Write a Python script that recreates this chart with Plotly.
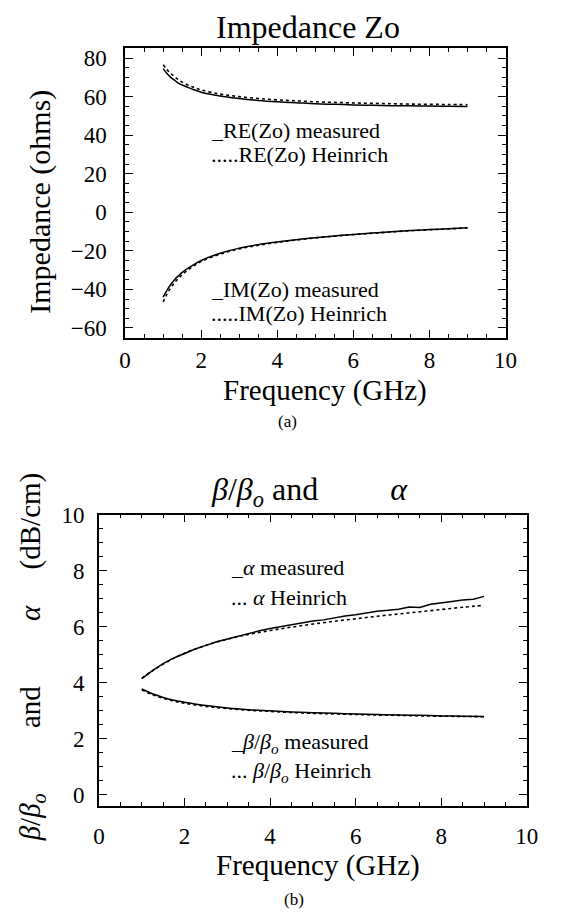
import plotly.graph_objects as go

# ---------------- data ----------------
freq_z = [1.0, 1.1, 1.2, 1.3, 1.4, 1.5, 1.75, 2.0, 2.5, 3.0, 3.5, 4.0, 4.5, 5.0,
          5.5, 6.0, 6.5, 7.0, 7.5, 8.0, 8.5, 9.0]
re_meas = [74.5, 72.0, 70.0, 68.5, 67.0, 66.0, 64.0, 62.3, 60.3, 59.0, 58.0, 57.3,
           56.8, 56.3, 56.0, 55.7, 55.5, 55.3, 55.2, 55.1, 55.0, 54.9]
re_hein = [76.5, 74.0, 72.0, 70.3, 68.8, 67.5, 65.2, 63.5, 61.3, 60.0, 59.0, 58.3,
           57.8, 57.3, 57.0, 56.7, 56.5, 56.3, 56.1, 56.0, 55.9, 55.8]
im_meas = [-44.0, -40.5, -37.5, -35.0, -33.0, -31.2, -27.8, -25.0, -21.3, -18.6,
           -16.8, -15.4, -14.2, -13.2, -12.3, -11.5, -10.8, -10.1, -9.5, -9.0, -8.5, -8.0]
im_hein = [-46.5, -42.5, -39.2, -36.5, -34.3, -32.4, -28.6, -25.6, -21.7, -19.0,
           -17.1, -15.6, -14.4, -13.3, -12.4, -11.6, -10.9, -10.2, -9.6, -9.1, -8.6, -8.2]

freq_a = [1.0, 1.25, 1.5, 1.75, 2.0, 2.25, 2.5, 2.75, 3.0, 3.25, 3.5, 3.75, 4.0,
          4.25, 4.5, 4.75, 5.0, 5.25, 5.5, 5.75, 6.0, 6.25, 6.5, 6.75, 7.0, 7.25,
          7.5, 7.75, 8.0, 8.25, 8.5, 8.75, 9.0]
alpha_meas = [4.14, 4.43, 4.68, 4.88, 5.04, 5.20, 5.33, 5.46, 5.56, 5.66, 5.76, 5.85,
              5.93, 6.00, 6.07, 6.12, 6.20, 6.24, 6.32, 6.38, 6.42, 6.48, 6.55, 6.58,
              6.62, 6.70, 6.68, 6.80, 6.86, 6.90, 6.95, 6.98, 7.08]

freq_b = [1.0, 1.25, 1.5, 1.75, 2.0, 2.5, 3.0, 3.5, 4.0, 4.5, 5.0, 5.5, 6.0, 6.5,
          7.0, 7.5, 8.0, 8.5, 9.0]
alpha_hein = [4.15, 4.42, 4.66, 4.87, 5.05, 5.33, 5.55, 5.72, 5.86, 5.98, 6.09, 6.19,
              6.28, 6.37, 6.45, 6.53, 6.61, 6.69, 6.76]
beta_meas = [3.77, 3.60, 3.47, 3.37, 3.30, 3.18, 3.09, 3.03, 2.99, 2.95, 2.92, 2.90,
             2.88, 2.86, 2.84, 2.83, 2.81, 2.80, 2.79]
beta_hein = [3.74, 3.57, 3.44, 3.34, 3.26, 3.15, 3.07, 3.01, 2.97, 2.93, 2.90, 2.88,
             2.86, 2.84, 2.83, 2.81, 2.80, 2.79, 2.78]

x_ticks = [0, 2, 4, 6, 8, 10]

# ---------------- styling ----------------
FONT = "Liberation Serif"
W, H = 565, 914


def px_x(p):
    return p / W


def px_y(p):
    return 1 - p / H


fig = go.Figure()

solid = dict(color="black", width=1.5)
dotted = dict(color="black", width=1.6, dash="dot")

fig.add_trace(go.Scatter(x=freq_z, y=re_meas, mode="lines", line=solid, line_shape="spline",
                         xaxis="x", yaxis="y", showlegend=False))
fig.add_trace(go.Scatter(x=freq_z, y=re_hein, mode="lines", line=dotted, line_shape="spline",
                         xaxis="x", yaxis="y", showlegend=False))
fig.add_trace(go.Scatter(x=freq_z, y=im_meas, mode="lines", line=solid, line_shape="spline",
                         xaxis="x", yaxis="y", showlegend=False))
fig.add_trace(go.Scatter(x=freq_z, y=im_hein, mode="lines", line=dotted, line_shape="spline",
                         xaxis="x", yaxis="y", showlegend=False))

fig.add_trace(go.Scatter(x=freq_a, y=alpha_meas, mode="lines", line=solid,
                         xaxis="x2", yaxis="y2", showlegend=False))
fig.add_trace(go.Scatter(x=freq_b, y=alpha_hein, mode="lines", line=dotted, line_shape="spline",
                         xaxis="x2", yaxis="y2", showlegend=False))
fig.add_trace(go.Scatter(x=freq_b, y=beta_meas, mode="lines", line=solid, line_shape="spline",
                         xaxis="x2", yaxis="y2", showlegend=False))
fig.add_trace(go.Scatter(x=freq_b, y=beta_hein, mode="lines", line=dotted, line_shape="spline",
                         xaxis="x2", yaxis="y2", showlegend=False))

axis_common = dict(
    showline=True, linecolor="black", linewidth=1.5, mirror="allticks",
    ticks="inside", ticklen=8, tickwidth=1.2, tickcolor="black",
    showgrid=False, zeroline=False,
    tickfont=dict(family=FONT, size=23, color="black"),
)
minor_x = dict(dtick=0.5, tick0=0, ticks="inside", ticklen=4, tickcolor="black", tickwidth=1)

fig.update_layout(
    width=W, height=H,
    margin=dict(l=0, r=0, t=0, b=0),
    paper_bgcolor="white", plot_bgcolor="white",
    xaxis=dict(axis_common, domain=[px_x(123), px_x(516)], range=[0, 10],
               tickvals=x_ticks, anchor="y", ticklabelstandoff=1, minor=minor_x),
    yaxis=dict(axis_common, domain=[px_y(331), px_y(37)], range=[-65, 85],
               dtick=20, tick0=0, anchor="x", ticklabelstandoff=12,
               minor=dict(dtick=5, tick0=0, ticks="inside", ticklen=4, tickcolor="black", tickwidth=1)),
    xaxis2=dict(axis_common, domain=[px_x(96), px_x(538)], range=[0, 10],
                tickvals=x_ticks, anchor="y2", ticklabelstandoff=9, minor=minor_x),
    yaxis2=dict(axis_common, domain=[px_y(807), px_y(511)], range=[-0.4, 10],
                dtick=2, tick0=0, anchor="x2", ticklabelstandoff=8,
                minor=dict(dtick=0.5, tick0=0, ticks="inside", ticklen=4, tickcolor="black", tickwidth=1)),
)

NB = "\u00a0"
BETA = "<i>β</i>/<i>β</i><sub><i>o</i></sub>"
ALPHA = "<i>α</i>"
ann = []
title_font = dict(family=FONT, size=32, color="black")
# titles
ann.append(dict(text="Impedance Zo", x=px_x(312), y=px_y(15), xref="paper", yref="paper",
                showarrow=False, xanchor="center", yanchor="middle", font=title_font))
ann.append(dict(text=BETA + " and" + NB * 9 + ALPHA,
                x=px_x(314), y=px_y(488), xref="paper", yref="paper",
                showarrow=False, xanchor="center", yanchor="middle", font=title_font))
# x-axis titles
axt_font = dict(family=FONT, size=29, color="black")
ann.append(dict(text="Frequency (GHz)", x=px_x(330), y=px_y(385), xref="paper", yref="paper",
                showarrow=False, xanchor="center", yanchor="middle", font=axt_font))
ann.append(dict(text="Frequency (GHz)", x=px_x(322), y=px_y(868), xref="paper", yref="paper",
                showarrow=False, xanchor="center", yanchor="middle", font=axt_font))
# y-axis titles
ann.append(dict(text="Impedance (ohms)", x=px_x(35), y=px_y(193), xref="paper", yref="paper",
                showarrow=False, xanchor="center", yanchor="middle", textangle=-90,
                font=dict(family=FONT, size=30, color="black")))
ann.append(dict(text=BETA + NB * 9 + "and" + NB * 9 + ALPHA + NB * 5 + "(dB/cm)",
                x=px_x(27), y=px_y(656), xref="paper", yref="paper",
                showarrow=False, xanchor="center", yanchor="middle", textangle=-90,
                font=dict(family=FONT, size=29, color="black")))
# panel labels
ann.append(dict(text="(a)", x=px_x(291), y=px_y(416), xref="paper", yref="paper",
                showarrow=False, xanchor="center", yanchor="middle",
                font=dict(family=FONT, size=17, color="black")))
ann.append(dict(text="(b)", x=px_x(297), y=px_y(902), xref="paper", yref="paper",
                showarrow=False, xanchor="center", yanchor="middle",
                font=dict(family=FONT, size=17, color="black")))

# in-plot legend texts
leg_font = dict(family=FONT, size=22, color="black")
top_leg = [("_RE(Zo) measured", 42.5), (".....RE(Zo) Heinrich", 30.0),
           ("_IM(Zo) measured", -40.0), (".....IM(Zo) Heinrich", -52.5)]
for t, yv in top_leg:
    ann.append(dict(text=t, x=2.2, y=yv, xref="x", yref="y", showarrow=False,
                    xanchor="left", yanchor="middle", font=leg_font))
bot_leg = [("_" + ALPHA + " measured", 8.1), ("... " + ALPHA + " Heinrich", 7.05),
           ("_" + BETA + " measured", 1.85),
           ("... " + BETA + " Heinrich", 0.8)]
for t, yv in bot_leg:
    ann.append(dict(text=t, x=3.05, y=yv, xref="x2", yref="y2", showarrow=False,
                    xanchor="left", yanchor="middle", font=leg_font))

fig.update_layout(annotations=ann)

fig.write_html("out.html")
